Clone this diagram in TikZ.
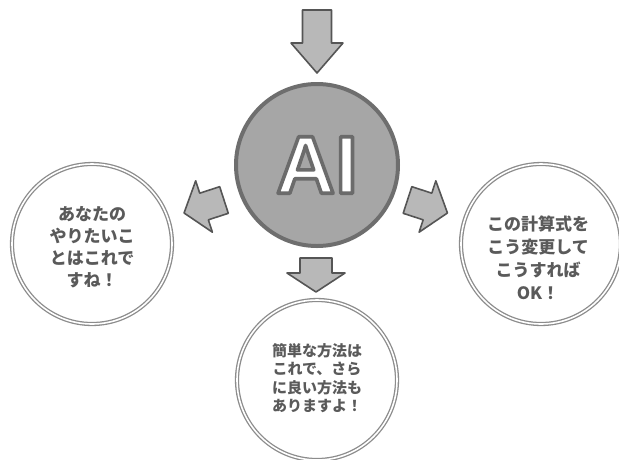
\documentclass[tikz,border=0pt]{standalone}
\usepackage{fontspec}
\setmainfont{Liberation Sans}
\newfontfamily\cjk{Noto Sans CJK JP}
\usetikzlibrary{calc}
\definecolor{aifill}{HTML}{A6A6A6}
\definecolor{aiedge}{HTML}{6E6E6E}
\definecolor{arrfill}{HTML}{B8B8B8}
\definecolor{arredge}{HTML}{555555}
\definecolor{ringgray}{HTML}{8C8C8C}
\definecolor{textgray}{HTML}{5A5A5A}
% outlined letters: fill and stroke the glyphs
\newcommand{\outlined}[1]{\special{pdf:literal direct 0.42 G 2 Tr 3.6 w 1 j}#1\special{pdf:literal direct 0 Tr}}

\begin{document}
\begin{tikzpicture}[x=1pt, y=1pt,
  ring/.style={circle, draw=ringgray, line width=1.3pt, double=white, double distance=1.6pt, fill=white, minimum size=160pt, inner sep=0pt},
  msg/.style={align=center, text=textgray, font=\cjk\bfseries\fontsize{17}{22}\selectfont},
  ailetters/.style={font=\bfseries\fontsize{82}{82}\selectfont, inner sep=0pt},
  arrbox/.style={draw=arredge, fill=arrfill, line width=1.6pt, line join=round},
  pics/blockarr/.style n args={4}{code={
    \draw[arrbox] (0,#3) -- ({#1-#2},#3) -- ({#1-#2},#4) -- (#1,0) -- ({#1-#2},-#4) -- ({#1-#2},-#3) -- (0,-#3) -- cycle;}}
]
\useasboundingbox (0,0) rectangle (619,-459);

% answer bubbles
\node[ring] (wish) at (92,-244) {};
\node[ring] (formula) at (541,-244) {};
\node[ring] (easy) at (317,-380) {};
\node[msg] (wishtxt) at ($(wish)+(0,-3)$) {あなたの\\やりたいこ\\とはこれで\\すね！};
\node[msg, font=\cjk\bfseries\fontsize{17}{23}\selectfont] (formulatxt) at ($(formula)+(-3,-14)$) {この計算式を\\こう変更して\\こうすれば\\OK！};
\node[msg, font=\cjk\bfseries\fontsize{15}{18.5}\selectfont] (easytxt) at ($(easy)+(0,2)$) {簡単な方法は\\これで、さら\\に良い方法も\\ありますよ！};

% AI
\node[circle, draw=aiedge, line width=4pt, fill=aifill, minimum size=162pt, inner sep=0pt] (ai) at (317,-165) {};
\node[ailetters, text=white] (ailabel) at (ai.center) {\outlined{AI}};

% arrows
\pic[rotate=-90] at ($(ai.center)+(0,155)$) {blockarr={63}{30}{14.5}{26}};
\pic[rotate=198] at ($(ai.center)+(-93,-35)$) {blockarr={42}{21}{14}{27}};
\pic[rotate=-18] at ($(ai.center)+(90.5,-35)$) {blockarr={42}{21}{14}{27}};
\pic[rotate=-90] at ($(ai.center)+(-1,-93)$) {blockarr={34}{19}{16}{29}};
\end{tikzpicture}
\end{document}
